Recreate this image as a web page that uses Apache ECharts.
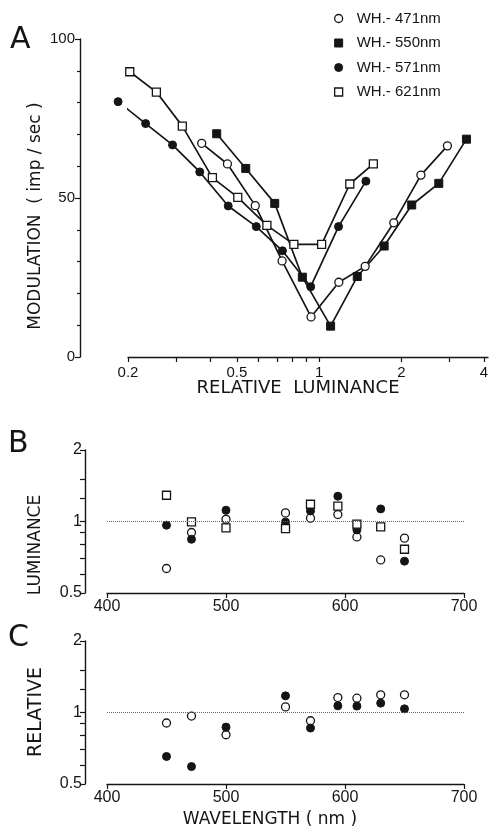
<!DOCTYPE html>
<html>
<head>
<meta charset="utf-8">
<script src="https://cdn.jsdelivr.net/npm/echarts@6/dist/echarts.min.js"></script>
<style>
html,body{margin:0;padding:0;background:#fff;}
#main{width:491px;height:829px;}
</style>
</head>
<body>
<div id="main"></div>
<script>
// A: modulation vs relative luminance, one curve per white-vs-wavelength pair
var lum471 = [0.372, 0.462, 0.584, 0.732, 0.934, 1.180, 1.473, 1.874, 2.355, 2.944];
var mod471 = [67.2, 60.7, 47.6, 30.2, 12.6, 23.5, 28.5, 42.2, 57.2, 66.4];
var lum550 = [0.422, 0.539, 0.688, 0.868, 1.101, 1.378, 1.728, 2.180, 2.738, 3.456];
var mod550 = [70.2, 59.3, 48.3, 25.1, 9.7, 25.3, 34.9, 47.8, 54.6, 68.5];
var lum571 = [0.184, 0.232, 0.291, 0.366, 0.465, 0.589, 0.734, 0.931, 1.177, 1.482];
var mod571 = [80.3, 73.4, 66.7, 58.2, 47.5, 41.0, 33.4, 22.1, 41.0, 55.3];
var lum621 = [0.203, 0.254, 0.316, 0.407, 0.504, 0.644, 0.808, 1.021, 1.294, 1.578];
var mod621 = [89.7, 83.3, 72.6, 56.4, 50.2, 41.4, 35.4, 35.4, 54.4, 60.7];

// B and C: relative luminance vs wavelength
var wavelength = [450, 471, 500, 550, 571, 594, 610, 630, 650];
var bOpen   = [0.634, 0.899, 1.022, 1.087, 1.033, 1.070, 0.861, 0.689, 0.851];
var bFilled = [0.965, 0.842, 1.116, 0.996, 1.108, 1.278, 0.922, 1.130, 0.681];
var bSquare = [1.290, 0.996, 0.940, 0.934, 1.182, 1.160, 0.974, 0.949, 0.764];
var cOpen   = [0.903, 0.966, 0.806, 1.056, 0.923, 1.156, 1.149, 1.187, 1.187];
var cFilled = [0.653, 0.592, 0.868, 1.175, 0.860, 1.067, 1.064, 1.095, 1.036];

// tick labels
var lumTicks = [0.2, 0.3, 0.4, 0.5, 0.6, 0.7, 0.8, 0.9, 1, 2, 3, 4];
var lumLabels = [0.2, 0.5, 1, 2, 4];
var relTicks = [0.5, 0.6, 0.7, 0.8, 0.9, 1, 1.25, 1.5, 2];
var relLabels = [0.5, 1, 2];

var ink = '#151515';
var num = 'Liberation Sans';
var word = 'DejaVu Sans';
var square = 'path://M0,0L10,0L10,10L0,10Z';

function pairs(xs, ys) {
    return xs.map(function (x, i) { return [x, ys[i]]; });
}

var openSym = {color: '#fff', borderColor: ink, borderWidth: 1.3, opacity: 1};
var fillSym = {color: ink, borderColor: ink, borderWidth: 1, opacity: 1};

function curve(name, xs, ys, symbol, style) {
    return {
        name: name, type: 'line', xAxisIndex: 0, yAxisIndex: 0,
        data: pairs(xs, ys), symbol: symbol, symbolSize: 8, clip: false,
        itemStyle: style, lineStyle: {color: ink, width: 1.7},
        emphasis: {disabled: true}, animation: false
    };
}
function dots(xi, xs, ys, symbol, style) {
    return {
        type: 'scatter', xAxisIndex: xi, yAxisIndex: xi,
        data: pairs(xs, ys), symbol: symbol, symbolSize: 8,
        itemStyle: style, animation: false, clip: false,
        emphasis: {disabled: true}
    };
}
function refLine() {
    return {
        silent: true, symbol: 'none', label: {show: false},
        lineStyle: {type: 'dotted', color: '#666', width: 1},
        data: [{yAxis: 1}]
    };
}

var axisLine = {show: true, lineStyle: {color: ink, width: 1.4}};

var wlAxis = function (gi) {
    return {
        gridIndex: gi, type: 'value', min: 400, max: 700, interval: 100,
        axisLine: axisLine,
        axisTick: {show: true, length: 5, lineStyle: {color: ink, width: 1.2}},
        axisLabel: {fontSize: 16, fontFamily: num, color: ink, margin: 6},
        splitLine: {show: false}
    };
};
var relAxis = function (gi) {
    return {
        gridIndex: gi, type: 'log', logBase: 2, min: 0.5, max: 2, offset: 22,
        axisLine: axisLine,
        axisTick: {show: true, length: 5, customValues: relTicks, lineStyle: {color: ink, width: 1.2}},
        axisLabel: {fontSize: 16, fontFamily: num, color: ink, margin: 3, customValues: relLabels},
        splitLine: {show: false}
    };
};

var a471 = curve('WH.- 471nm', lum471, mod471, 'circle', openSym);
var a550 = curve('WH.- 550nm', lum550, mod550, square, fillSym);
var a571 = curve('WH.- 571nm', lum571, mod571, 'circle', fillSym);
var a621 = curve('WH.- 621nm', lum621, mod621, square, openSym);

var b1 = dots(1, wavelength, bOpen, 'circle', openSym);
b1.markLine = refLine();
var c1 = dots(2, wavelength, cOpen, 'circle', openSym);
c1.markLine = refLine();

var chart = echarts.init(document.getElementById('main'), null, {renderer: 'canvas'});
chart.setOption({
    backgroundColor: '#fff',
    animation: false,
    textStyle: {fontFamily: num},
    grid: [
        {left: 128, top: 39, width: 362, height: 318},
        {left: 107, top: 450, width: 357, height: 143},
        {left: 107, top: 641, width: 357, height: 143}
    ],
    xAxis: [
        {
            gridIndex: 0, type: 'log', logBase: 10, min: 0.2, max: 4.14,
            axisLine: axisLine,
            axisTick: {show: true, length: 5, customValues: lumTicks, lineStyle: {color: ink, width: 1.2}},
            axisLabel: {fontSize: 15, fontFamily: num, color: ink, margin: 8, customValues: lumLabels},
            splitLine: {show: false}, minorTick: {show: false}
        },
        wlAxis(1), wlAxis(2)
    ],
    yAxis: [
        {
            gridIndex: 0, type: 'value', min: 0, max: 100, interval: 50, offset: 48,
            axisLine: axisLine,
            axisTick: {show: true, length: 5, lineStyle: {color: ink, width: 1.2}},
            minorTick: {show: true, splitNumber: 5, length: 3, lineStyle: {color: ink, width: 1.2}},
            axisLabel: {fontSize: 15, fontFamily: num, color: ink, margin: 5},
            splitLine: {show: false}
        },
        relAxis(1), relAxis(2)
    ],
    legend: {
        orient: 'vertical', left: 329, top: 6, itemGap: 9.5,
        itemWidth: 26, itemHeight: 8, symbolKeepAspect: true,
        textStyle: {fontSize: 15, fontFamily: num, color: ink},
        selectedMode: false,
        data: [
            {name: 'WH.- 471nm', icon: 'circle', itemStyle: openSym},
            {name: 'WH.- 550nm', icon: square, itemStyle: fillSym},
            {name: 'WH.- 571nm', icon: 'circle', itemStyle: fillSym},
            {name: 'WH.- 621nm', icon: square, itemStyle: openSym}
        ]
    },
    graphic: [
        {type: 'text', x: 10, y: 25, style: {text: 'A', font: '30px ' + word, fill: ink}},
        {type: 'text', x: 8, y: 429, style: {text: 'B', font: '30px ' + word, fill: ink}},
        {type: 'text', x: 8, y: 623, style: {text: 'C', font: '30px ' + word, fill: ink}},
        {type: 'text', x: 36, y: 216, rotation: Math.PI / 2,
            style: {text: 'MODULATION  ( imp / sec )', font: '17px ' + word, fill: ink,
                textAlign: 'center', textVerticalAlign: 'middle'}},
        {type: 'text', x: 298, y: 388,
            style: {text: 'RELATIVE  LUMINANCE', font: '18px ' + word, fill: ink,
                textAlign: 'center', textVerticalAlign: 'middle'}},
        {type: 'text', x: 36, y: 545, rotation: Math.PI / 2,
            style: {text: 'LUMINANCE', font: '17px ' + word, fill: ink,
                textAlign: 'center', textVerticalAlign: 'middle'}},
        {type: 'text', x: 36, y: 712, rotation: Math.PI / 2,
            style: {text: 'RELATIVE', font: '19px ' + word, fill: ink,
                textAlign: 'center', textVerticalAlign: 'middle'}},
        {type: 'text', x: 270, y: 820,
            style: {text: 'WAVELENGTH ( nm )', font: '17px ' + word, fill: ink,
                textAlign: 'center', textVerticalAlign: 'middle'}}
    ],
    series: [
        a471, a550, a571, a621,
        b1,
        dots(1, wavelength, bFilled, 'circle', fillSym),
        dots(1, wavelength, bSquare, square, openSym),
        c1,
        dots(2, wavelength, cFilled, 'circle', fillSym)
    ]
});
</script>
</body>
</html>
